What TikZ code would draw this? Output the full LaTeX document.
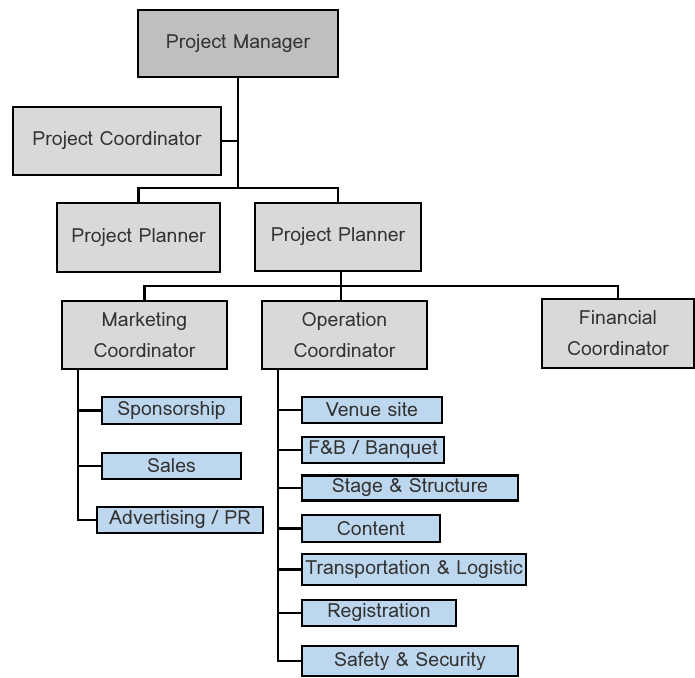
\documentclass[tikz,border=0pt]{standalone}
\usepackage{fontspec}
\setmainfont{Loma}
\definecolor{topgray}{HTML}{BFBFBF}
\definecolor{boxgray}{HTML}{D9D9D9}
\definecolor{taskblue}{HTML}{BDD7EE}
\definecolor{ink}{HTML}{333333}
\begin{document}
\begin{tikzpicture}[x=1pt,y=-1pt,
  every node/.style={font=\fontsize{19.5}{31}\selectfont, text=ink},
  box/.style={draw=black, line width=2.2pt, fill=boxgray, rectangle, inner sep=0pt, align=center},
  topbox/.style={box, fill=topgray},
  task/.style={draw=black, line width=2.2pt, fill=taskblue, rectangle, inner sep=0pt, align=center},
  conn/.style={draw=black, line width=2.2pt}]
\useasboundingbox (0,0) rectangle (695,677);

% management levels
\node[topbox, minimum width=200, minimum height=67] (pm) at (238,43.5) {Project Manager};
\node[box, minimum width=208, minimum height=68] (pc) at (117,141) {Project Coordinator};
\node[box, minimum width=163, minimum height=69] (pp1) at (138.5,237.5) {Project Planner};
\node[box, minimum width=166, minimum height=68] (pp2) at (338,237) {Project Planner};

% coordinators
\node[box, minimum width=165, minimum height=68] (mc) at (144.5,335) {Marketing\\Coordinator};
\node[box, minimum width=165, minimum height=68] (oc) at (344.5,335) {Operation\\Coordinator};
\node[box, minimum width=152, minimum height=69] (fc) at (618,333.5) {Financial\\Coordinator};

% marketing tasks
\node[task, minimum width=139, minimum height=27] (spon) at (171.5,410.5) {Sponsorship};
\node[task, minimum width=139, minimum height=26] (sales) at (171.5,466) {Sales};
\node[task, minimum width=166, minimum height=26] (adv) at (180,520) {Advertising / PR};

% operation tasks
\node[task, minimum width=140, minimum height=26] (venue) at (372,410) {Venue site};
\node[task, minimum width=142, minimum height=26] (fb) at (373,450) {F\&B / Banquet};
\node[task, minimum width=216, minimum height=25] (stage) at (410,488) {Stage \& Structure};
\node[task, minimum width=138, minimum height=27] (content) at (371,528.5) {Content};
\node[task, minimum width=224, minimum height=31] (trans) at (414,569.5) {Transportation \& Logistic};
\node[task, minimum width=154, minimum height=26] (reg) at (379,613) {Registration};
\node[task, minimum width=216, minimum height=30] (safe) at (410,661) {Safety \& Security};

% junction points
\coordinate (j1) at (238,188);
\coordinate (j2) at (341,286);
\coordinate (ms) at (78,369);
\coordinate (os) at (278,369);

% upper tree
\draw[conn] (pm.south) -- (j1);
\draw[conn] (pc.east) -- (pc.east -| j1);
\draw[conn] (pp1.north) |- (j1) -| (pp2.north);
\draw[conn] (pp2.south -| j2) -- (j2);
\draw[conn] (mc.north) |- (j2) -| (fc.north);
\draw[conn] (j2) -- (oc.north -| j2);

% marketing branch
\draw[conn] (ms) |- (adv.west);
\draw[conn] (ms |- spon.west) -- (spon.west);
\draw[conn] (ms |- sales.west) -- (sales.west);

% operation branch
\draw[conn] (os) |- (safe.west);
\foreach \t in {venue,fb,stage,content,trans,reg}
  \draw[conn] (os |- \t.west) -- (\t.west);
\end{tikzpicture}
\end{document}
